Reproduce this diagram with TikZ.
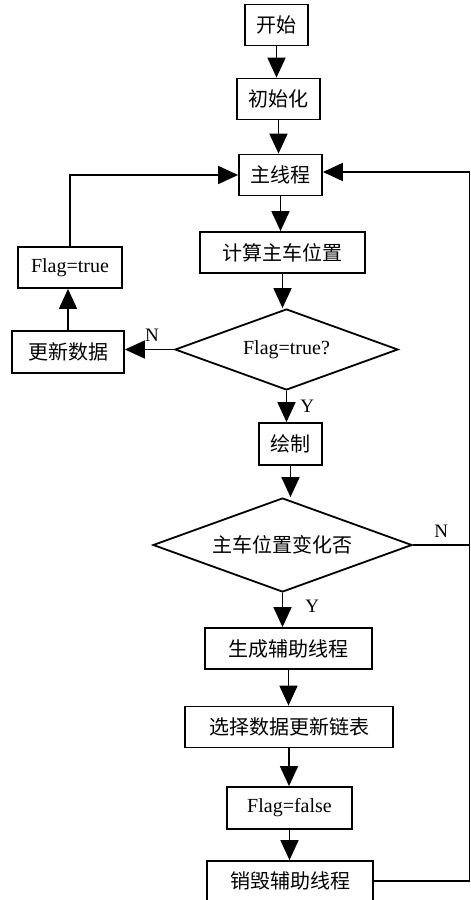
\documentclass[tikz,border=0pt]{standalone}
\usepackage{fontspec}
\setmainfont{Liberation Serif}
\newfontfamily\cjk{Noto Sans CJK SC}
\usetikzlibrary{shapes.geometric,arrows.meta}

\begin{document}
\begin{tikzpicture}[x=1pt,y=-1pt]
    \tikzstyle{every node}+=[inner sep=0pt, font=\fontsize{20}{22}\selectfont]
    \tikzstyle{box}=[draw, black, line width=1.8pt, minimum height=41pt]
    \tikzstyle{dec}=[draw, black, line width=1.8pt, diamond, aspect=2.75]
    \tikzstyle{arr}=[black, line width=1.8pt, -{Triangle[length=20pt,width=18pt]}]
    \tikzstyle{lbl}=[font=\fontsize{19}{20}\selectfont]
    \useasboundingbox (0,0) rectangle (471,900);
    % boxes
    \node [box, minimum width=63pt] (start) at (276.5,25) {\cjk 开始};
    \node [box, minimum width=83pt] (init) at (278.5,99) {\cjk 初始化};
    \node [box, minimum width=83pt] (main) at (280.5,175) {\cjk 主线程};
    \node [box, minimum width=165pt] (calc) at (282.5,252.5) {\cjk 计算主车位置};
    \node [box, minimum width=104pt] (flagT) at (70,267.5) {Flag=true};
    \node [dec, minimum width=223pt, minimum height=81pt] (dec1) at (286.5,349.5) {Flag=true?};
    \node [box, minimum width=112pt, minimum height=42pt] (upd) at (68,352) {\cjk 更新数据};
    \node [box, minimum width=63pt, minimum height=42pt] (drw) at (290.5,444) {\cjk 绘制};
    \node [dec, minimum width=259pt, minimum height=94pt] (dec2) at (282.5,545) {\cjk 主车位置变化否};
    \node [box, minimum width=167pt] (gen) at (288.5,648.5) {\cjk 生成辅助线程};
    \node [box, minimum width=208pt] (sel) at (289,727) {\cjk 选择数据更新链表};
    \node [box, minimum width=125pt, minimum height=42pt] (flagF) at (289.5,808) {Flag=false};
    \node [box, minimum width=166pt, minimum height=40pt] (kill) at (290,881) {\cjk 销毁辅助线程};
    \coordinate (rtop) at (469.5,172);
    % main flow
    \draw [arr] (start.south) -- (start.south |- init.north);
    \draw [arr] (init.south) -- (init.south |- main.north);
    \draw [arr] (main.south) -- (main.south |- calc.north);
    \draw [arr] (calc.south) -- (calc.south |- dec1.north);
    \draw [arr] (dec1.south) -- node [lbl, right=13pt] {Y} (dec1.south |- drw.north);
    \draw [arr] (drw.south) -- (drw.south |- dec2.north);
    \draw [arr] (dec2.south) -- node [lbl, right=22pt, pos=0.4] {Y} (dec2.south |- gen.north);
    \draw [arr] (gen.south) -- (gen.south |- sel.north);
    \draw [arr] (sel.south) -- (sel.south |- flagF.north);
    \draw [arr] (flagF.south) -- (flagF.south |- kill.north);
    % left loop
    \draw [arr] (dec1.west) -- node [lbl, above=7pt, pos=0.45] {N} (upd.east |- dec1.west);
    \draw [arr] (upd.north) -- (upd.north |- flagT.south);
    \draw [arr] (flagT.north) |- (main.west);
    % right loop
    \draw [black, line width=1.8pt] (dec2.east) -- node [lbl, above=7pt, pos=0.5] {N} (dec2.east -| rtop);
    \draw [arr] (kill.east) -| (rtop) -- (main.east |- rtop);
\end{tikzpicture}
\end{document}
